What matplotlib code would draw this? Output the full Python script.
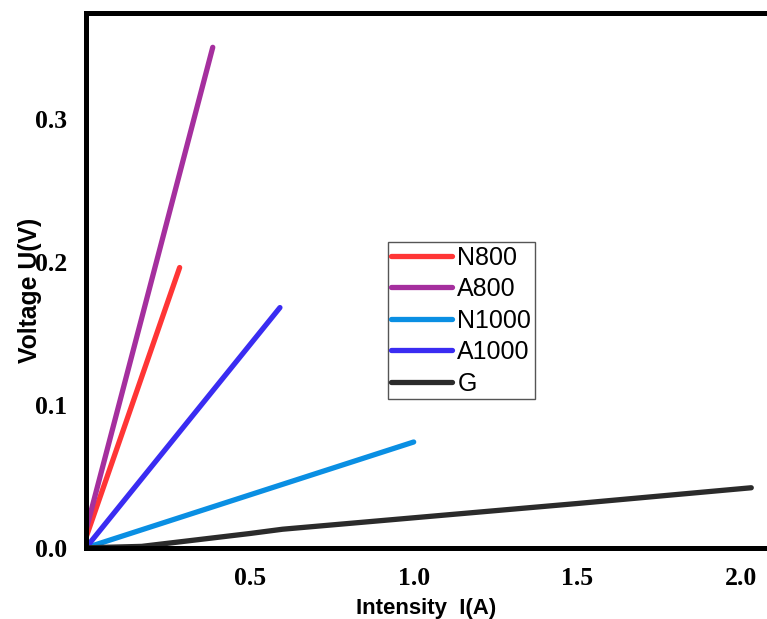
import numpy as np
import matplotlib
matplotlib.use("Agg")
import matplotlib.pyplot as plt

# ---------------------------------------------------------
# Data
# ---------------------------------------------------------

labels = ["N800", "A800", "N1000", "A1000", "G"]
colors = ["#FF3535", "#A52F9E", "#0A8FE3", "#3A2CF2", "#2B2B2B"]

n800_i = [0.0, 0.286]
n800_u = [0.007, 0.196]

a800_i = [0.0, 0.387]
a800_u = [0.012, 0.350]

n1000_i = [0.0, 1.0]
n1000_u = [0.0, 0.074]

a1000_i = [0.0, 0.592]
a1000_u = [0.0, 0.168]

g_i = [0.0, 0.17, 0.5, 0.6, 1.0, 1.5, 2.03]
g_u = [0.0, 0.001, 0.010, 0.013, 0.021, 0.031, 0.042]

x_ticks = [0.5, 1.0, 1.5, 2.0]
y_ticks = [0.0, 0.1, 0.2, 0.3]

series = [
    (n800_i, n800_u),
    (a800_i, a800_u),
    (n1000_i, n1000_u),
    (a1000_i, a1000_u),
    (g_i, g_u),
]

# ---------------------------------------------------------
# Plot
# ---------------------------------------------------------

fig = plt.figure(figsize=(7.67, 6.19), dpi=100)
ax = fig.add_axes([0.112, 0.115, 0.888, 0.864])

for (x, y), lab, col in zip(series, labels, colors):
    ax.plot(x, y, color=col, lw=3.8, label=lab, solid_capstyle="round")

ax.set_xlim(0, 2.078)
ax.set_ylim(0, 0.374)

ax.set_xticks(x_ticks)
ax.set_yticks(y_ticks)
ax.set_xticklabels([f"{v:.1f}" for v in x_ticks],
                   family="Liberation Serif", fontweight="bold", fontsize=18.5)
ax.set_yticklabels([f"{v:.1f}" for v in y_ticks],
                   family="Liberation Serif", fontweight="bold", fontsize=18.5)
ax.tick_params(axis="both", length=0)
ax.tick_params(axis="x", pad=13.5)
ax.tick_params(axis="y", pad=13.5)

for side in ["left", "bottom", "top"]:
    ax.spines[side].set_linewidth(3.6)
    ax.spines[side].set_color("black")
ax.spines["right"].set_visible(False)

ax.set_xlabel("Intensity  I(A)", family="Liberation Sans", fontweight="bold",
              fontsize=16)
ax.set_ylabel("Voltage U(V)", family="Liberation Sans", fontweight="bold",
              fontsize=17.8)
ax.xaxis.set_label_coords(0.5, -0.094)
ax.yaxis.set_label_coords(-0.064, 0.482)

leg = ax.legend(loc="upper left", bbox_to_anchor=(0.443, 0.572),
                borderaxespad=0, fancybox=False, framealpha=1,
                prop={"family": "Liberation Sans", "size": 18},
                handlelength=2.44, handletextpad=0.2, labelspacing=0.3,
                borderpad=0.15)
leg.get_frame().set_edgecolor("#555555")
leg.get_frame().set_linewidth(1.0)

fig.savefig("out.png", dpi=100)
